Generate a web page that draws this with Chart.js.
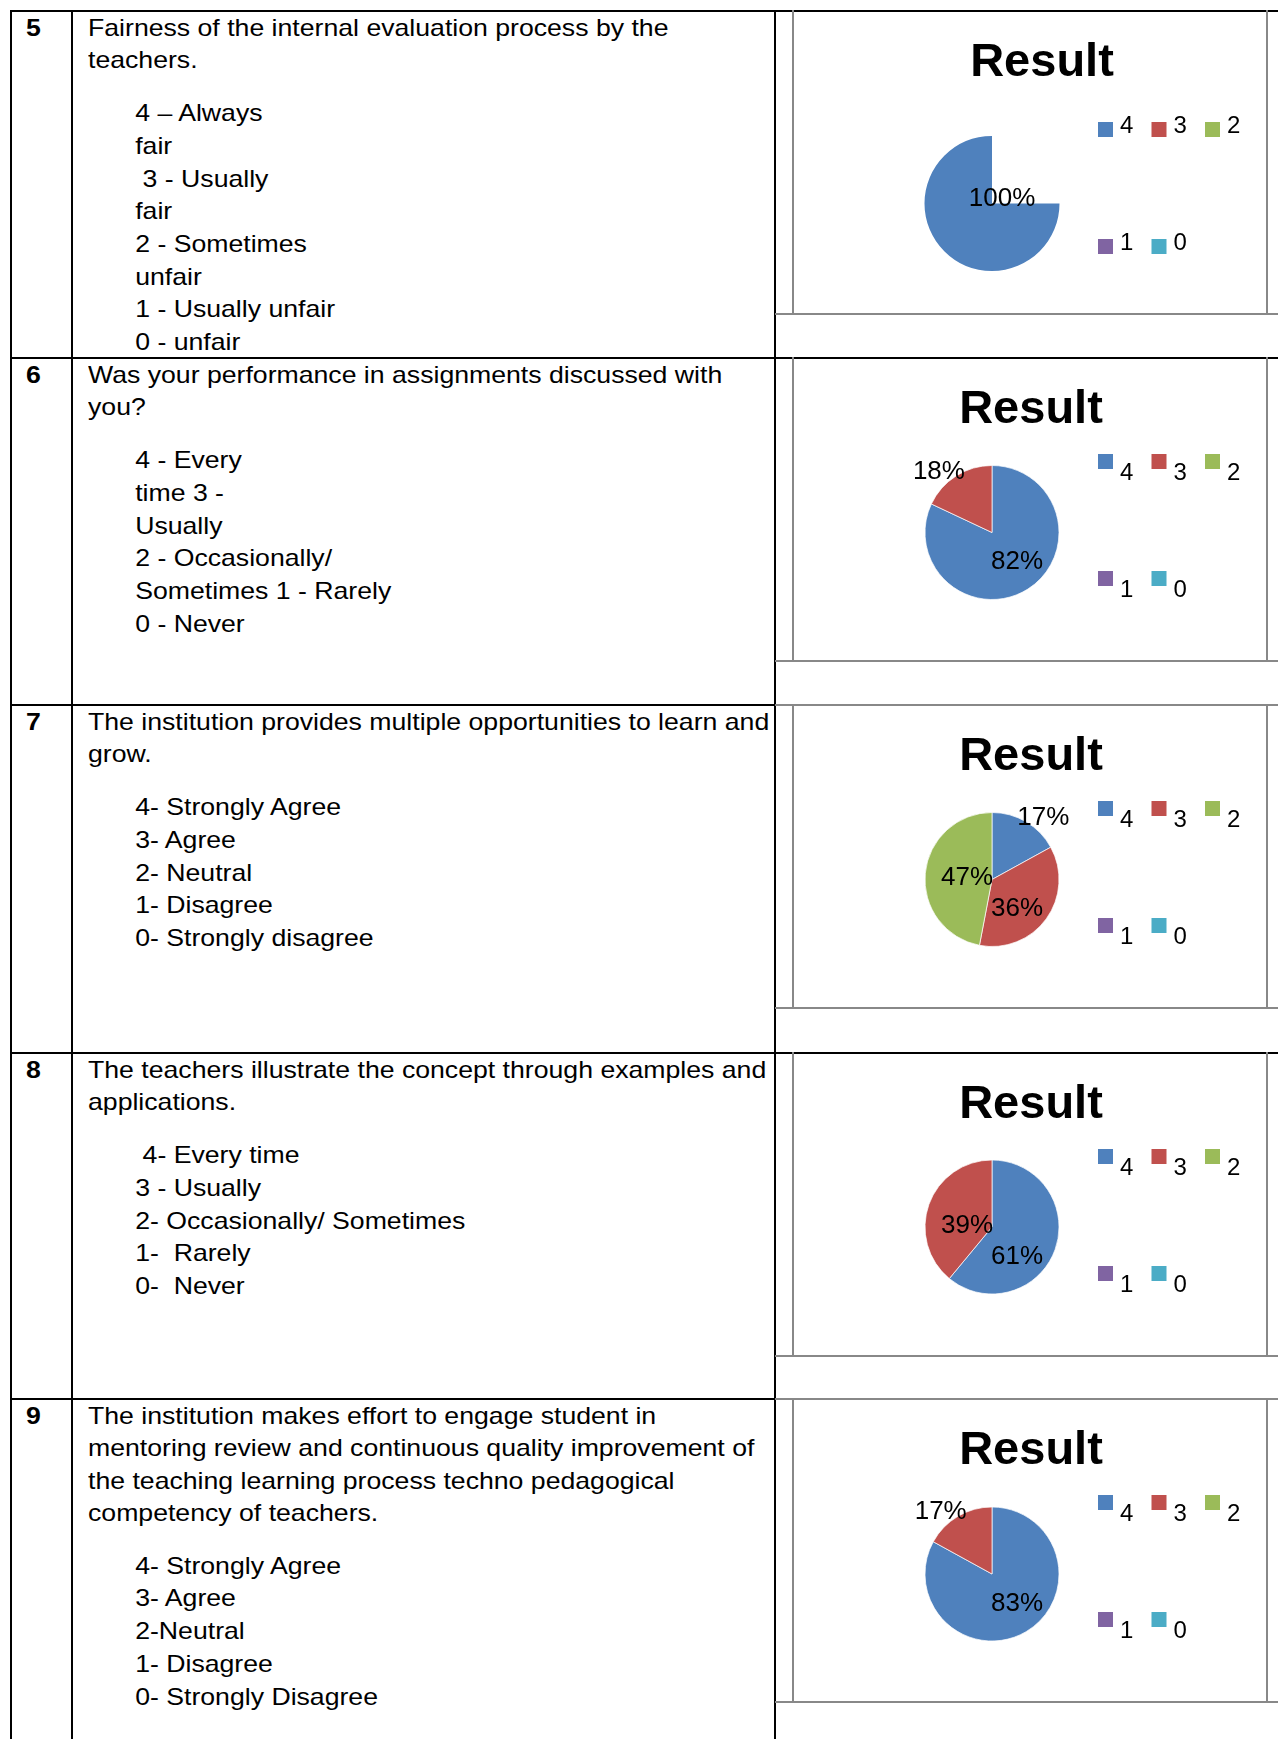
<!DOCTYPE html>
<html>
<head>
<meta charset="utf-8">
<script src="https://cdn.jsdelivr.net/npm/chart.js@4.4.0/dist/chart.umd.min.js"></script>
<style>
    body { margin: 0; width: 1278px; height: 1739px; background: #fff; position: relative; overflow: hidden;
           font-family: "Liberation Sans", Arial, sans-serif; color: #000; }
    .line { position: absolute; }
    .num { position: absolute; left: 26px; font-size: 24px; font-weight: bold; line-height: 32px;
           transform: scaleX(1.11); transform-origin: left top; }
    .text { position: absolute; left: 88px; font-size: 24px; white-space: pre;
            transform: scaleX(1.11); transform-origin: left top; }
    .q { line-height: 32.3px; }
    .opts { margin-top: 20.5px; margin-left: 42.5px; line-height: 32.7px; }
    canvas { position: absolute; left: 794px; }
</style>
</head>
<body>
<script>
const categories = ['4', '3', '2', '1', '0'];
const q5Values = [100, 0, 0, 0, 0];
const q6Values = [82, 18, 0, 0, 0];
const q7Values = [17, 36, 47, 0, 0];
const q8Values = [61, 39, 0, 0, 0];
const q9Values = [83, 17, 0, 0, 0];

const questionNumbers = ['5', '6', '7', '8', '9'];
const questionTexts = [
    ['Fairness of the internal evaluation process by the', 'teachers.'],
    ['Was your performance in assignments discussed with', 'you?'],
    ['The institution provides multiple opportunities to learn and', 'grow.'],
    ['The teachers illustrate the concept through examples and', 'applications.'],
    ['The institution makes effort to engage student in', 'mentoring review and continuous quality improvement of',
     'the teaching learning process techno pedagogical', 'competency of teachers.']
];
const optionTexts = [
    ['4 \u2013 Always', 'fair', ' 3 - Usually', 'fair', '2 - Sometimes', 'unfair', '1 - Usually unfair', '0 - unfair'],
    ['4 - Every', 'time 3 -', 'Usually', '2 - Occasionally/', 'Sometimes 1 - Rarely', '0 - Never'],
    ['4- Strongly Agree', '3- Agree', '2- Neutral', '1- Disagree', '0- Strongly disagree'],
    [' 4- Every time', '3 - Usually', '2- Occasionally/ Sometimes', '1-  Rarely', '0-  Never'],
    ['4- Strongly Agree', '3- Agree', '2-Neutral', '1- Disagree', '0- Strongly Disagree']
];

const sliceColors = ['#4F81BD', '#C0504D', '#9BBB59', '#8064A2', '#4BACC6'];
const FONT = '"Liberation Sans", Arial, sans-serif';

// layout of the table (pixels)
const rowTops = [10, 357, 704, 1052, 1398];
const pieCenterY = [193.5, 175.5, 175.5, 175, 176];
const titleX = [248, 237, 237, 237, 237];
const squareShift = [5.5, -9.5, -9.5, -9.5, -9.5];
const CANVAS_W = 472, CANVAS_H = 304, PIE_X = 198, R = 67.5;

function addLine(x, y, w, h, color) {
    const d = document.createElement('div');
    d.className = 'line';
    d.style.cssText = `left:${x}px;top:${y}px;width:${w}px;height:${h}px;background:${color}`;
    document.body.appendChild(d);
}

function drawMid(ctx, text, x, cy, size) {
    ctx.fillText(text, x, cy + size * 0.358);
}

const resultPlugin = {
    id: 'resultDecor',
    afterDatasetsDraw(chart, args, opts) {
        const ctx = chart.ctx;
        const values = chart.data.datasets[0].data;
        const total = values.reduce((s, v) => s + v, 0);
        const meta = chart.getDatasetMeta(0);
        ctx.save();
        ctx.fillStyle = '#000';

        // percentage labels
        ctx.font = `26px ${FONT}`;
        ctx.textAlign = 'center';
        meta.data.forEach((arc, i) => {
            const v = values[i];
            if (!v) return;
            const pct = Math.round(v / total * 100);
            const label = pct + '%';
            const w = ctx.measureText(label).width;
            let x, y;
            if (pct === 100) {
                x = arc.x + 10; y = arc.y - 6;
            } else {
                const mid = (arc.startAngle + arc.endAngle) / 2;
                const dx = Math.cos(mid), dy = Math.sin(mid);
                if (pct < 20) {
                    x = arc.x + dx * arc.outerRadius + Math.sign(dx) * w * 0.33;
                    y = arc.y + dy * arc.outerRadius - 6;
                } else {
                    x = arc.x + Math.sign(dx) * (w / 2 - 1);
                    y = arc.y + (dy > 0 ? 28 : -3);
                }
            }
            drawMid(ctx, label, x, y, 25);
        });

        // title
        ctx.font = `bold 47px ${FONT}`;
        ctx.fillText('Result', opts.titleX, 66);

        // legend: 3 items on the first row, 2 on the second
        ctx.font = `24px ${FONT}`;
        ctx.textAlign = 'left';
        chart.data.labels.forEach((lab, i) => {
            const col = i % 3, row = Math.floor(i / 3);
            const sx = 304 + col * 53.5;
            const ty = row === 0 ? 114 : 231;
            ctx.fillStyle = sliceColors[i];
            ctx.fillRect(sx, ty + opts.squareShift - 7.5, 15, 15);
            ctx.fillStyle = '#000';
            drawMid(ctx, lab, sx + 22, ty, 24);
        });
        ctx.restore();
    }
};

function renderRow(i, values) {
    const top = rowTops[i];

    const num = document.createElement('div');
    num.className = 'num';
    num.style.top = (top + 2) + 'px';
    num.textContent = questionNumbers[i];
    document.body.appendChild(num);

    const block = document.createElement('div');
    block.className = 'text';
    block.style.top = (top + 2) + 'px';
    const q = document.createElement('div');
    q.className = 'q';
    q.textContent = questionTexts[i].join('\n');
    const o = document.createElement('div');
    o.className = 'opts';
    o.textContent = optionTexts[i].join('\n');
    block.appendChild(q);
    block.appendChild(o);
    document.body.appendChild(block);

    // chart frame
    const topColor = (i === 2 || i === 4) ? '#888' : '#000';
    addLine(775, top, 503, 2, topColor);
    addLine(792, top, 2, 304, '#888');
    addLine(1266, top, 2, 304, '#888');
    addLine(775, top + 303, 503, 2, '#888');

    const canvas = document.createElement('canvas');
    canvas.width = CANVAS_W;
    canvas.height = CANVAS_H;
    canvas.style.top = top + 'px';
    document.body.appendChild(canvas);

    const cy = pieCenterY[i];
    const full = values.some(v => v === 100);
    new Chart(canvas, {
        type: 'pie',
        data: {
            labels: categories,
            datasets: [{
                data: values,
                backgroundColor: sliceColors,
                borderColor: 'rgba(255,255,255,0.7)',
                borderWidth: values.map(v => (v > 0 && v < 100 ? 1 : 0)),
                rotation: full ? 90 : 0,
                circumference: full ? 270 : 360,
                hoverOffset: 0
            }]
        },
        options: {
            responsive: false,
            animation: false,
            events: [],
            layout: {
                padding: { left: PIE_X - R, right: CANVAS_W - PIE_X - R, top: cy - R, bottom: CANVAS_H - cy - R }
            },
            plugins: {
                legend: { display: false },
                tooltip: { enabled: false },
                title: { display: false },
                resultDecor: { titleX: titleX[i], squareShift: squareShift[i] }
            }
        },
        plugins: [resultPlugin]
    });
}

document.addEventListener('DOMContentLoaded', () => {
    // table grid
    addLine(10, 10, 2, 1729, '#000');
    addLine(71, 10, 2, 1729, '#000');
    addLine(774, 10, 2, 1729, '#000');
    rowTops.forEach(t => addLine(10, t, 766, 2, '#000'));

    [q5Values, q6Values, q7Values, q8Values, q9Values].forEach((vals, i) => renderRow(i, vals));
});
</script>
</body>
</html>
